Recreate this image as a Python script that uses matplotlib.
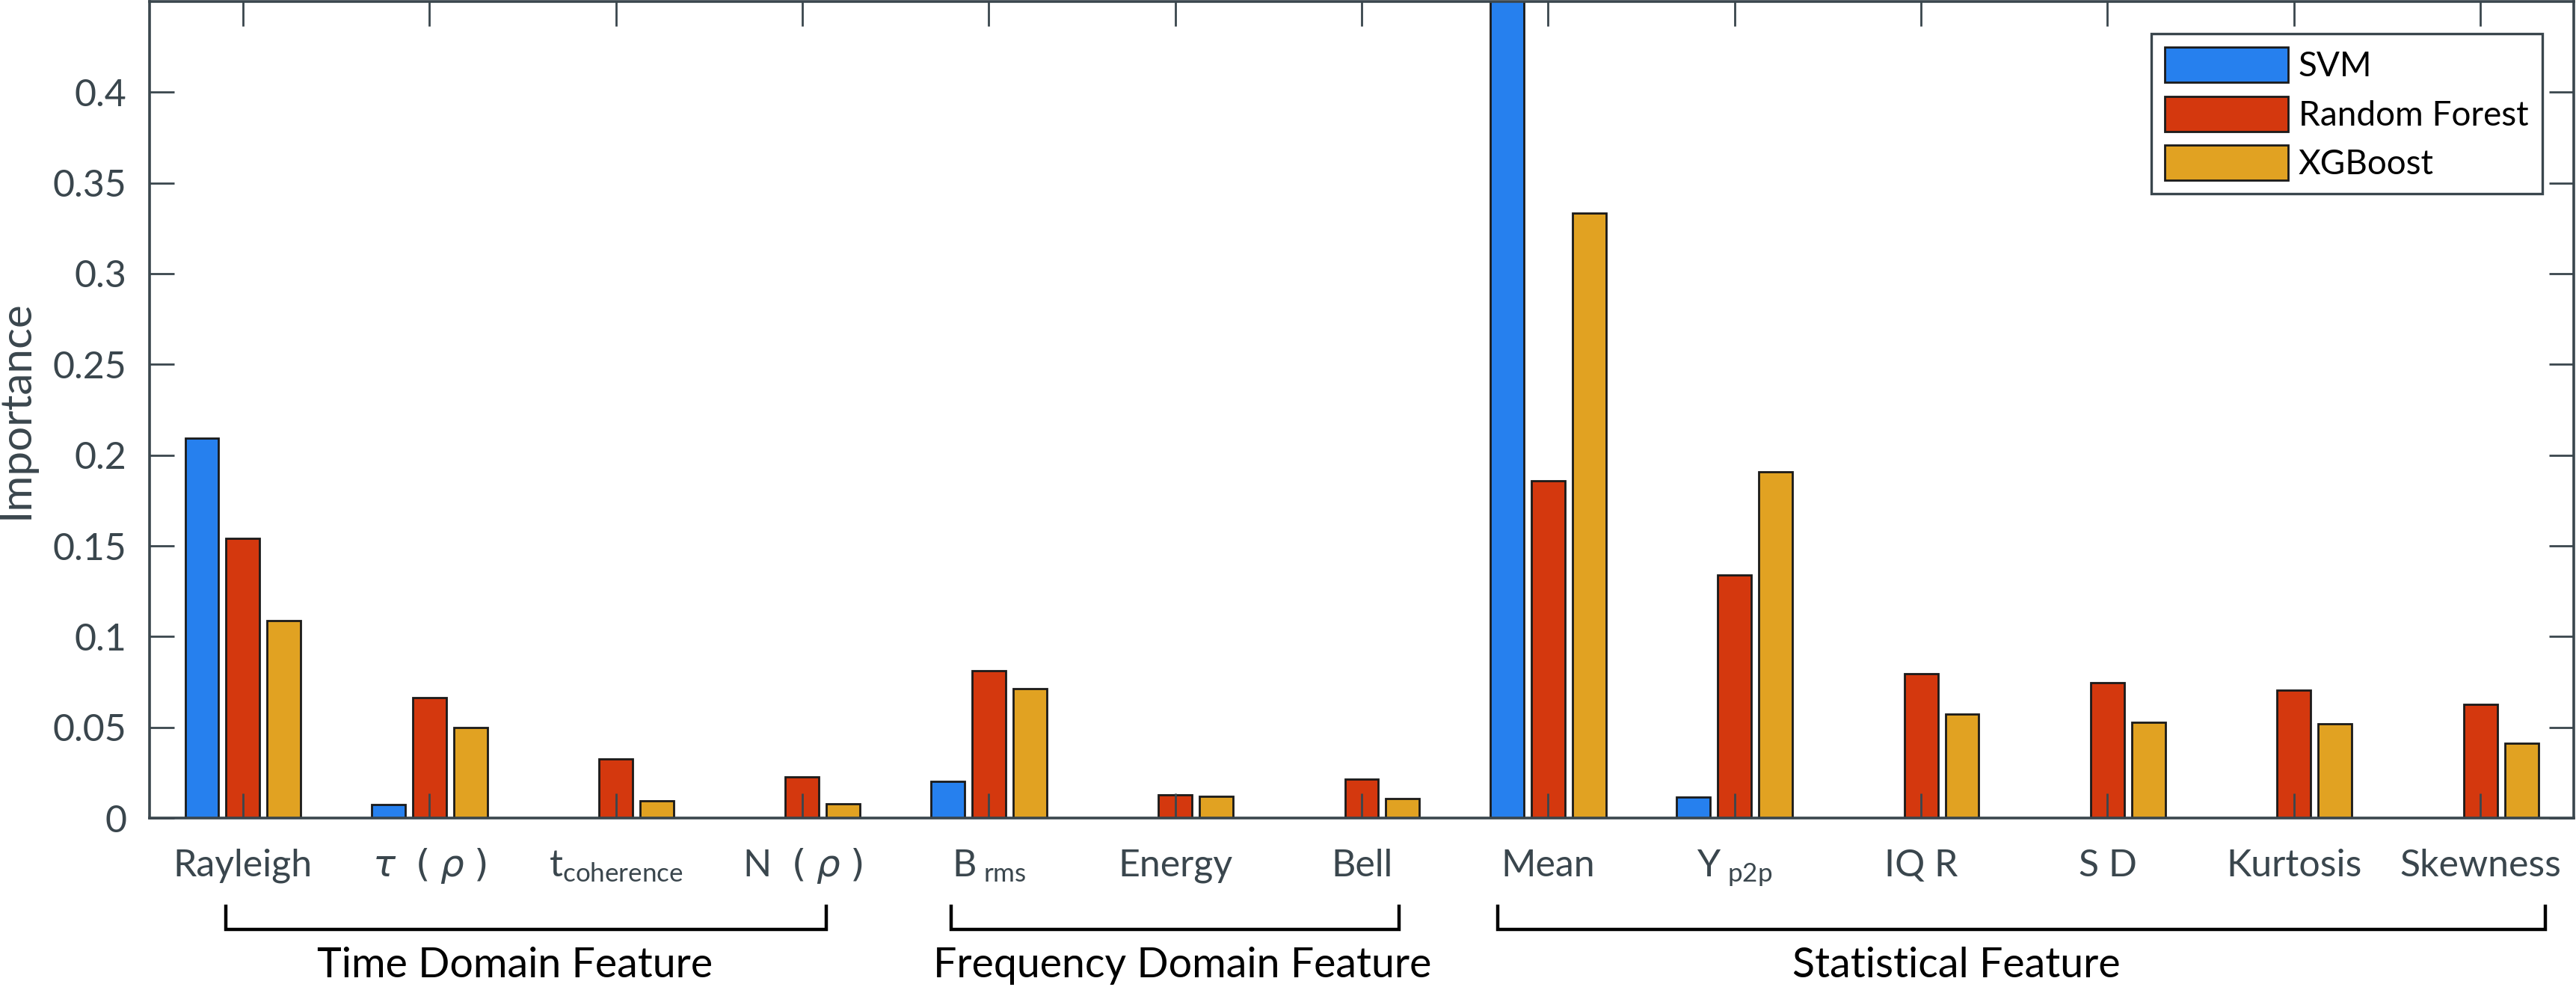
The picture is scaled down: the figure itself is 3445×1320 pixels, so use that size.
import numpy as np
import matplotlib.pyplot as plt
from matplotlib.transforms import blended_transform_factory

# feature importance per model
features = ['Rayleigh', r'$\tau\;\;(\;\rho\;)$', r'$\mathregular{t_{coherence}}$', r'$\mathregular{N}\;\;(\;\rho\;)$',
            r'$\mathregular{B_{\;rms}}$', 'Energy', 'Bell',
            'Mean', r'$\mathregular{Y_{\;p2p}}$', 'IQ R', 'S D', 'Kurtosis', 'Skewness']
svm = [0.2095, 0.0076, 0.0, 0.0, 0.0201, 0.0, 0.0, 0.48, 0.0115, 0.0, 0.0, 0.0, 0.0]
rf = [0.154, 0.0665, 0.0325, 0.0228, 0.0811, 0.0126, 0.0213, 0.1857, 0.1341, 0.0795, 0.0746, 0.0706, 0.0628]
xgb = [0.109, 0.0499, 0.0094, 0.0078, 0.0714, 0.0119, 0.0106, 0.3335, 0.1909, 0.0572, 0.0528, 0.0521, 0.0411]
models = ['SVM', 'Random Forest', 'XGBoost']
yticks = [0, 0.05, 0.1, 0.15, 0.2, 0.25, 0.3, 0.35, 0.4]

groups = ['Time Domain Feature', 'Frequency Domain Feature', 'Statistical Feature']

# bracket extents / label centres (x in category units, hand placed)
bracket_x = [(0.91, 4.13), (4.80, 7.20), (7.73, 13.35)]
label_x = [2.46, 6.04, 10.19]

colors = ['#2680ee', '#d4380e', '#e1a222']
dark = '#3a464d'

plt.rcParams['font.family'] = ['Lato', 'DejaVu Sans']
plt.rcParams['mathtext.fontset'] = 'dejavusans'

fig = plt.figure(figsize=(17.225, 6.6), dpi=200)
ax = fig.add_axes([0.0581, 0.1712, 0.9410, 0.8273])

x = np.arange(1, len(features) + 1)
step = 0.22
for i, (vals, name, col) in enumerate(zip([svm, rf, xgb], models, colors)):
    ax.bar(x + (i - 1) * step, vals, width=0.18, color=col,
           edgecolor='#1a1a1a', linewidth=1.0, label=name)

ax.set_xlim(0.5, 13.5)
ax.set_ylim(0, 0.45)
ax.set_xticks(x)
ax.set_xticklabels(features)
ax.set_yticks(yticks)
ax.set_yticklabels([f'{v:g}' for v in yticks])

for s in ax.spines.values():
    s.set_color(dark)
    s.set_linewidth(1.3)
ax.tick_params(direction='in', length=12, width=1.0, color=dark, labelcolor=dark,
               labelsize=18, top=True, right=True)
ax.tick_params(axis='y', pad=11)
ax.tick_params(axis='x', pad=28)
for lbl in ax.get_xticklabels():
    lbl.set_verticalalignment('baseline')

ax.set_ylabel('Importance', fontsize=21, color=dark)
ax.yaxis.set_label_coords(-0.047, 0.5)

leg = ax.legend(loc='upper right', bbox_to_anchor=(0.987, 0.9605), borderaxespad=0,
                fontsize=16.5, handlelength=3.6, handleheight=1.2, labelspacing=0.4,
                handletextpad=0.3, borderpad=0.4, fancybox=False, edgecolor=dark,
                framealpha=1)
leg.get_frame().set_linewidth(1.2)

# group brackets under the tick labels
trans = blended_transform_factory(ax.transData, ax.transAxes)
for name, (x0, x1), xc in zip(groups, bracket_x, label_x):
    ax.plot([x0, x0, x1, x1], [-0.108, -0.1365, -0.1365, -0.108], color='black',
            lw=1.6, transform=trans, clip_on=False, solid_joinstyle='miter')
    ax.text(xc, -0.195, name, transform=trans, ha='center', va='baseline',
            fontsize=20, color='black')

fig.savefig('out.png', dpi=200)
